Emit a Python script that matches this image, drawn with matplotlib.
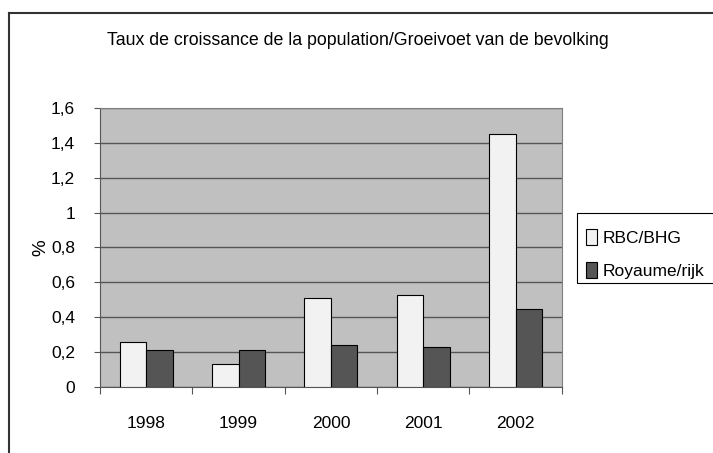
import matplotlib.pyplot as plt
import numpy as np
from matplotlib.lines import Line2D
from matplotlib.patches import Rectangle

plt.rcParams['font.family'] = ['Liberation Sans Narrow', 'Liberation Sans', 'DejaVu Sans']

years = ['1998', '1999', '2000', '2001', '2002']
rbc = [0.26, 0.13, 0.51, 0.53, 1.45]
royaume = [0.21, 0.21, 0.24, 0.23, 0.45]
yticks = [0, 0.2, 0.4, 0.6, 0.8, 1, 1.2, 1.4, 1.6]
ylabels = ['0', '0,2', '0,4', '0,6', '0,8', '1', '1,2', '1,4', '1,6']

fig = plt.figure(figsize=(7.13, 4.53), dpi=100)
ax = fig.add_axes([0.1403, 0.1457, 0.6477, 0.6159])

x = np.arange(len(years))
w = 0.287
ax.set_facecolor('#c0c0c0')
b1 = ax.bar(x - w / 2, rbc, w, color='#f2f2f2', edgecolor='black', linewidth=0.8, label='RBC/BHG', zorder=3)
b2 = ax.bar(x + w / 2, royaume, w, color='#555555', edgecolor='black', linewidth=0.8, label='Royaume/rijk', zorder=3)

ax.set_xlim(-0.5, len(years) - 0.5)
ax.set_ylim(0, 1.6)
ax.set_yticks(yticks)
ax.set_yticklabels(ylabels, fontsize=12.5)
ax.set_xticks(np.arange(-0.5, len(years)), minor=False)
ax.set_xticklabels([])
ax.set_xticks(x, minor=True)
ax.set_xticklabels(years, minor=True, fontsize=12.5)
ax.tick_params(axis='x', which='minor', length=0, pad=21)
ax.tick_params(axis='x', which='major', length=5, color='#555555')
ax.tick_params(axis='y', length=4, color='#555555', pad=14)
ax.grid(axis='y', color='#555555', linewidth=1, zorder=0)
for s in ax.spines.values():
    s.set_color('#808080')
ax.spines['left'].set_color('#555555')
ax.spines['bottom'].set_color('#555555')

ax.set_ylabel('%', fontsize=13.5, labelpad=1)
fig.text(0.502, 0.911, 'Taux de croissance de la population/Groeivoet van de bevolking',
         ha='center', va='center', fontsize=12.8)

# legend frame drawn separately (it runs past the right edge)
fig.add_artist(Rectangle((577 / 713, 1 - 283 / 453), 0.25, 70 / 453, transform=fig.transFigure,
                         facecolor='white', edgecolor='black', linewidth=0.8, zorder=1))
leg = fig.legend(handles=[b1, b2], loc='center left', bbox_to_anchor=(0.822, 1 - 254 / 453),
                 fontsize=12.5, frameon=False,
                 handlelength=0.6, handleheight=1.0, handletextpad=0.35,
                 borderpad=0, labelspacing=0.95, borderaxespad=0)
leg.set_zorder(2)

fig.add_artist(Line2D([0.013, 0.013], [0, 0.972], color='#333333', linewidth=1.5))
fig.add_artist(Line2D([0.013, 1.0], [0.972, 0.972], color='#333333', linewidth=1.5))

fig.savefig('out.png', dpi=100)
